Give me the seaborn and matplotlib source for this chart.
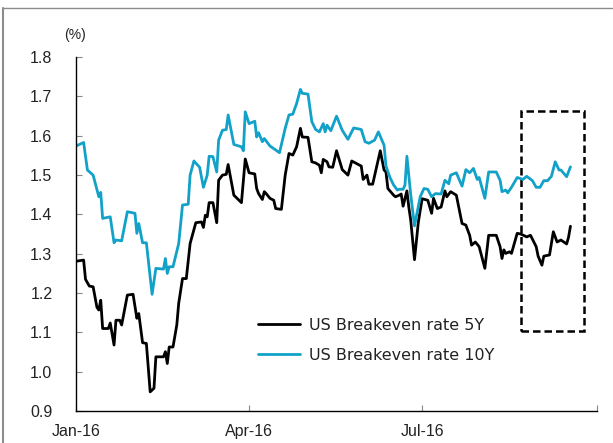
import pandas as pd
import seaborn as sns
import matplotlib.pyplot as plt
import matplotlib.dates as mdates
from matplotlib.patches import Rectangle
from matplotlib.lines import Line2D

# US breakeven rates (%)
dates_5y = [
    "2016-01-01", "2016-01-05", "2016-01-06", "2016-01-08", "2016-01-10", "2016-01-12",
    "2016-01-13", "2016-01-14", "2016-01-15", "2016-01-18", "2016-01-19", "2016-01-21",
    "2016-01-22", "2016-01-24", "2016-01-25", "2016-01-28", "2016-01-31", "2016-02-02",
    "2016-02-03", "2016-02-05", "2016-02-07", "2016-02-09", "2016-02-11", "2016-02-12",
    "2016-02-16", "2016-02-17", "2016-02-18", "2016-02-19", "2016-02-21", "2016-02-23",
    "2016-02-24", "2016-02-26", "2016-02-28", "2016-03-01", "2016-03-04", "2016-03-07",
    "2016-03-08", "2016-03-09", "2016-03-10", "2016-03-11", "2016-03-13", "2016-03-15",
    "2016-03-16", "2016-03-18", "2016-03-20", "2016-03-21", "2016-03-24", "2016-03-28",
    "2016-03-30", "2016-04-01", "2016-04-04", "2016-04-05", "2016-04-06", "2016-04-08",
    "2016-04-09", "2016-04-10", "2016-04-12", "2016-04-14", "2016-04-15", "2016-04-18",
    "2016-04-20", "2016-04-22", "2016-04-24", "2016-04-26", "2016-04-28", "2016-04-29",
    "2016-05-02", "2016-05-04", "2016-05-06", "2016-05-08", "2016-05-09", "2016-05-10",
    "2016-05-12", "2016-05-13", "2016-05-15", "2016-05-17", "2016-05-20", "2016-05-23",
    "2016-05-25", "2016-05-30", "2016-05-31", "2016-06-02", "2016-06-03", "2016-06-05",
    "2016-06-09", "2016-06-11", "2016-06-12", "2016-06-13", "2016-06-16", "2016-06-17",
    "2016-06-19", "2016-06-20", "2016-06-21", "2016-06-23", "2016-06-24", "2016-06-25",
    "2016-06-27", "2016-06-29", "2016-07-01", "2016-07-04", "2016-07-06", "2016-07-07",
    "2016-07-09", "2016-07-11", "2016-07-13", "2016-07-14", "2016-07-16", "2016-07-19",
    "2016-07-22", "2016-07-24", "2016-07-26", "2016-07-27", "2016-07-29", "2016-07-31",
    "2016-08-03", "2016-08-05", "2016-08-09", "2016-08-11", "2016-08-12", "2016-08-13",
    "2016-08-14", "2016-08-16", "2016-08-17", "2016-08-20", "2016-08-22", "2016-08-25",
    "2016-08-27", "2016-08-30", "2016-08-31", "2016-09-02", "2016-09-03", "2016-09-06",
    "2016-09-08", "2016-09-10", "2016-09-12", "2016-09-15", "2016-09-16", "2016-09-17",
]
rate_5y = [
    1.281, 1.284, 1.235, 1.218, 1.216, 1.164,
    1.157, 1.182, 1.110, 1.110, 1.124, 1.068,
    1.131, 1.131, 1.119, 1.195, 1.197, 1.136,
    1.148, 1.074, 1.072, 0.949, 0.958, 1.038,
    1.038, 1.051, 1.021, 1.063, 1.063, 1.119,
    1.174, 1.237, 1.237, 1.326, 1.379, 1.381,
    1.367, 1.398, 1.394, 1.430, 1.430, 1.379,
    1.487, 1.500, 1.502, 1.527, 1.449, 1.430,
    1.541, 1.506, 1.503, 1.466, 1.453, 1.438,
    1.458, 1.453, 1.441, 1.436, 1.415, 1.413,
    1.500, 1.555, 1.551, 1.572, 1.619, 1.597,
    1.596, 1.534, 1.531, 1.525, 1.506, 1.540,
    1.534, 1.521, 1.520, 1.562, 1.514, 1.500,
    1.536, 1.523, 1.489, 1.500, 1.477, 1.477,
    1.562, 1.513, 1.508, 1.466, 1.449, 1.445,
    1.449, 1.452, 1.421, 1.460, 1.419, 1.386,
    1.285, 1.380, 1.440, 1.436, 1.403, 1.441,
    1.415, 1.419, 1.460, 1.445, 1.458, 1.449,
    1.377, 1.373, 1.347, 1.322, 1.330, 1.318,
    1.263, 1.347, 1.347, 1.318, 1.288, 1.310,
    1.301, 1.305, 1.301, 1.352, 1.350, 1.343,
    1.347, 1.318, 1.294, 1.271, 1.294, 1.297,
    1.356, 1.330, 1.335, 1.325, 1.342, 1.370,
]

dates_10y = [
    "2016-01-01", "2016-01-05", "2016-01-07", "2016-01-10", "2016-01-13", "2016-01-14",
    "2016-01-15", "2016-01-19", "2016-01-21", "2016-01-22", "2016-01-25", "2016-01-28",
    "2016-02-01", "2016-02-02", "2016-02-03", "2016-02-05", "2016-02-07", "2016-02-10",
    "2016-02-12", "2016-02-16", "2016-02-17", "2016-02-18", "2016-02-19", "2016-02-21",
    "2016-02-24", "2016-02-26", "2016-02-29", "2016-03-01", "2016-03-03", "2016-03-06",
    "2016-03-08", "2016-03-10", "2016-03-11", "2016-03-13", "2016-03-15", "2016-03-16",
    "2016-03-18", "2016-03-20", "2016-03-21", "2016-03-24", "2016-03-28", "2016-03-29",
    "2016-03-30", "2016-04-01", "2016-04-04", "2016-04-05", "2016-04-06", "2016-04-08",
    "2016-04-09", "2016-04-12", "2016-04-15", "2016-04-17", "2016-04-20", "2016-04-22",
    "2016-04-24", "2016-04-26", "2016-04-28", "2016-04-29", "2016-05-02", "2016-05-04",
    "2016-05-06", "2016-05-08", "2016-05-10", "2016-05-11", "2016-05-12", "2016-05-14",
    "2016-05-17", "2016-05-20", "2016-05-23", "2016-05-26", "2016-05-30", "2016-06-01",
    "2016-06-03", "2016-06-06", "2016-06-08", "2016-06-11", "2016-06-12", "2016-06-14",
    "2016-06-16", "2016-06-18", "2016-06-19", "2016-06-21", "2016-06-22", "2016-06-23",
    "2016-06-25", "2016-06-27", "2016-06-30", "2016-07-02", "2016-07-04", "2016-07-06",
    "2016-07-08", "2016-07-11", "2016-07-13", "2016-07-15", "2016-07-16", "2016-07-19",
    "2016-07-21", "2016-07-22", "2016-07-24", "2016-07-26", "2016-07-28", "2016-07-30",
    "2016-07-31", "2016-08-03", "2016-08-05", "2016-08-09", "2016-08-11", "2016-08-12",
    "2016-08-14", "2016-08-15", "2016-08-17", "2016-08-20", "2016-08-23", "2016-08-25",
    "2016-08-28", "2016-08-30", "2016-09-01", "2016-09-03", "2016-09-05", "2016-09-07",
    "2016-09-09", "2016-09-11", "2016-09-12", "2016-09-15", "2016-09-17",
]
rate_10y = [
    1.574, 1.583, 1.513, 1.500, 1.445, 1.456,
    1.390, 1.394, 1.328, 1.335, 1.333, 1.407,
    1.403, 1.352, 1.377, 1.328, 1.328, 1.197,
    1.263, 1.261, 1.288, 1.250, 1.267, 1.267,
    1.326, 1.424, 1.426, 1.500, 1.536, 1.520,
    1.469, 1.500, 1.548, 1.547, 1.508, 1.589,
    1.614, 1.616, 1.653, 1.578, 1.572, 1.562,
    1.661, 1.631, 1.637, 1.597, 1.608, 1.585,
    1.593, 1.574, 1.564, 1.557, 1.619, 1.653,
    1.655, 1.682, 1.718, 1.708, 1.706, 1.636,
    1.616, 1.610, 1.631, 1.610, 1.627, 1.613,
    1.650, 1.614, 1.591, 1.620, 1.616, 1.585,
    1.581, 1.589, 1.610, 1.576, 1.523, 1.495,
    1.475, 1.462, 1.464, 1.464, 1.475, 1.548,
    1.451, 1.371, 1.445, 1.466, 1.464, 1.445,
    1.453, 1.452, 1.487, 1.478, 1.500, 1.506,
    1.483, 1.472, 1.514, 1.506, 1.517, 1.489,
    1.494, 1.441, 1.508, 1.508, 1.487, 1.458,
    1.462, 1.455, 1.469, 1.494, 1.489, 1.497,
    1.486, 1.469, 1.469, 1.486, 1.486, 1.497,
    1.534, 1.513, 1.513, 1.496, 1.521,
]

label_5y = "US Breakeven rate 5Y"
label_10y = "US Breakeven rate 10Y"
tick_dates = ["2016-01-01", "2016-04-01", "2016-07-01", "2016-10-01"]
tick_labels = ["Jan-16", "Apr-16", "Jul-16", ""]
highlight = ("2016-08-22", "2016-09-24", 1.103, 1.663)  # dashed box: x0, x1, y0, y1

df = pd.concat([
    pd.DataFrame({"date": pd.to_datetime(dates_5y), "rate": rate_5y, "series": label_5y}),
    pd.DataFrame({"date": pd.to_datetime(dates_10y), "rate": rate_10y, "series": label_10y}),
])

sns.set_style("ticks")
plt.rcParams["font.family"] = ["Liberation Sans", "DejaVu Sans"]

fig = plt.figure(figsize=(6.13, 4.43), dpi=100)
ax = fig.add_axes([0.124, 0.072, 0.850, 0.799])

sns.lineplot(
    data=df, x="date", y="rate", hue="series",
    palette={label_5y: "black", label_10y: "#12a1c8"},
    estimator=None, sort=False, linewidth=2.0, ax=ax,
)

# dashed highlight box
x0, x1 = mdates.date2num(pd.Timestamp(highlight[0])), mdates.date2num(pd.Timestamp(highlight[1]))
ax.add_patch(Rectangle((x0, highlight[2]), x1 - x0, highlight[3] - highlight[2],
                       fill=False, ec="black", lw=1.8, ls=(0, (3, 1.6))))

ax.set_xlim(pd.Timestamp(tick_dates[0]), pd.Timestamp(tick_dates[-1]))
ax.set_ylim(0.9, 1.8)
ax.set_yticks([0.9, 1.0, 1.1, 1.2, 1.3, 1.4, 1.5, 1.6, 1.7, 1.8])
ax.set_yticklabels([f"{v:.1f}" for v in ax.get_yticks()])
ax.set_xticks(pd.to_datetime(tick_dates))
ax.set_xticklabels(tick_labels)
ax.tick_params(axis="y", direction="in", length=4, width=0.8, color="#888888",
               pad=17, labelsize=11.5, labelcolor="#222222")
ax.tick_params(axis="x", direction="in", length=4, width=0.8, color="#888888",
               pad=9, labelsize=11.5, labelcolor="#222222")
ax.set_xlabel("")
ax.set_ylabel("")
sns.despine(ax=ax)
for side in ["left", "bottom"]:
    ax.spines[side].set_color("black")
    ax.spines[side].set_linewidth(1.0)

leg = ax.legend(loc="upper left", bbox_to_anchor=(0.322, 0.305), frameon=False,
                prop={"family": "DejaVu Sans", "size": 11.5},
                handlelength=2.6, handletextpad=0.6, labelspacing=0.95)
for txt in leg.get_texts():
    txt.set_color("#222222")

fig.text(0.105, 0.912, "(%)", fontsize=10, color="#222222")

# thin gray frame visible on the left and top edges
fig.add_artist(Line2D([0.005, 0.005], [0.0, 0.982], color="#8c8c8c", lw=1.5))
fig.add_artist(Line2D([0.005, 0.998], [0.982, 0.982], color="#8c8c8c", lw=1.0))

fig.savefig("out.png", dpi=100)
